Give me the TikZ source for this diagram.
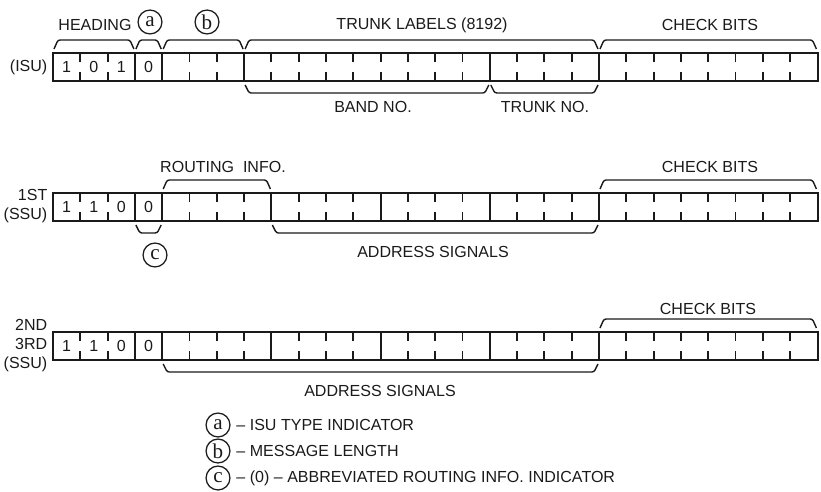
\documentclass[tikz,border=0pt]{standalone}
\usepackage{fontspec}
\setmainfont{Liberation Sans}
\newfontfamily\tagfont{Liberation Serif}
\usetikzlibrary{calc,positioning}
\definecolor{ink}{HTML}{1A1A1A}
\newcommand{\cw}{27.3}
\tikzset{
  wordbox/.style={draw=ink,line width=1.3pt,minimum width=19.11cm,minimum height=0.7cm,
                  inner sep=0pt,outer sep=0pt,anchor=north west},
  rule/.style={draw=ink,line width=1.3pt},
  brack/.style={draw=ink,line width=1pt,rounded corners=1.5pt},
  lbl/.style={text=ink,font=\fontsize{11.4}{13.5}\selectfont,inner sep=1pt},
  bit/.style={lbl},
  rowname/.style={lbl,align=right,anchor=east},
  tag/.style={circle,draw=ink,line width=0.9pt,minimum size=17pt,inner sep=0pt,
              text=ink,font=\tagfont\fontsize{15}{15}\selectfont},
}
% one signal unit: name, top left corner, bits, cells with a full rule
\newcommand{\msgword}[4]{%
  \node[wordbox] (#1) at #2 {};
  \foreach \i in {1,...,27} {
    \draw[rule] ($(#1.north west)+(\i*\cw,0)$) -- ++(0,-9);
    \draw[rule] ($(#1.south west)+(\i*\cw,0)$) -- ++(0,9);
  }
  \foreach \i in {#4}
    \draw[rule] ($(#1.north west)+(\i*\cw,0)$) -- ($(#1.south west)+(\i*\cw,0)$);
  \foreach \b [count=\k] in {#3}
    \node[bit] (#1-\k) at ($(#1.west)+(\k*\cw-0.5*\cw,0)$) {\b};
}
\newcommand{\upbrack}[3]{%
  \draw[brack] ($(#1.north west)+(#2*\cw+1,4)$) -- ++(4,9)
    -- ($(#1.north west)+(#3*\cw-5,13)$) -- ++(4,-9);
}
\newcommand{\downbrack}[3]{%
  \draw[brack] ($(#1.south west)+(#2*\cw+1,-4)$) -- ++(4,-8)
    -- ($(#1.south west)+(#3*\cw-5,-12)$) -- ++(4,8);
}

\begin{document}
\begin{tikzpicture}[x=0.025cm,y=0.025cm]
  \useasboundingbox (0,-492) rectangle (821,0);

  % ---------------------------------------------------------------- ISU
  \msgword{isu}{(53,-53)}{1,0,1,0}{3,4,7,16,20}
  \node[rowname] (isuname) at (49,-67) {(ISU)};
  \upbrack{isu}{0}{3} \upbrack{isu}{3}{4} \upbrack{isu}{4}{7}
  \upbrack{isu}{7}{20} \upbrack{isu}{20}{28}
  \downbrack{isu}{7}{16} \downbrack{isu}{16}{20}
  \node[lbl] (heading) at (95,-24.5) {HEADING};
  \node[tag] (taga) at (150,-22) {a};
  \node[tag] (tagb) at (207,-22) {b};
  \node[lbl] (trunklab) at (422,-25) {TRUNK LABELS (8192)};
  \node[lbl] (checkone) at (710,-25) {CHECK BITS};
  \node[lbl] (bandno) at (373,-107) {BAND NO.};
  \node[lbl] (trunkno) at (545,-107) {TRUNK NO.};

  % ---------------------------------------------------------------- 1st SSU
  \msgword{ssuone}{(53,-193)}{1,1,0,0}{3,4,8,12,16,20}
  \node[rowname] (ssuonename) at (49,-206) {1ST\\(SSU)};
  \upbrack{ssuone}{4}{8} \upbrack{ssuone}{20}{28}
  \downbrack{ssuone}{3}{4} \downbrack{ssuone}{8}{20}
  \node[lbl] (routing) at (223,-167) {ROUTING\ \ INFO.};
  \node[lbl] (checktwo) at (710,-167) {CHECK BITS};
  \node[tag] (tagc) at (155,-255) {c};
  \node[lbl] (addrone) at (433,-252) {ADDRESS SIGNALS};

  % ---------------------------------------------------------------- 2nd/3rd SSU
  \msgword{ssutwo}{(53,-332)}{1,1,0,0}{3,4,8,12,16,20}
  \node[rowname] (ssutwoname) at (49,-346) {2ND\\3RD\\(SSU)};
  \upbrack{ssutwo}{20}{28}
  \downbrack{ssutwo}{4}{20}
  \node[lbl] (checkthree) at (708,-309) {CHECK BITS};
  \node[lbl] (addrtwo) at (380,-391) {ADDRESS SIGNALS};

  % ---------------------------------------------------------------- key
  \node[tag] (keya) at (218,-425) {a};
  \node[tag] (keyb) at (218,-451) {b};
  \node[tag] (keyc) at (218,-478) {c};
  \node[lbl,right=3pt of keya] (keyatx) {-- ISU TYPE INDICATOR};
  \node[lbl,right=3pt of keyb] (keybtx) {-- MESSAGE LENGTH};
  \node[lbl,right=3pt of keyc] (keyctx) {-- (0) -- ABBREVIATED ROUTING INFO. INDICATOR};
\end{tikzpicture}
\end{document}
